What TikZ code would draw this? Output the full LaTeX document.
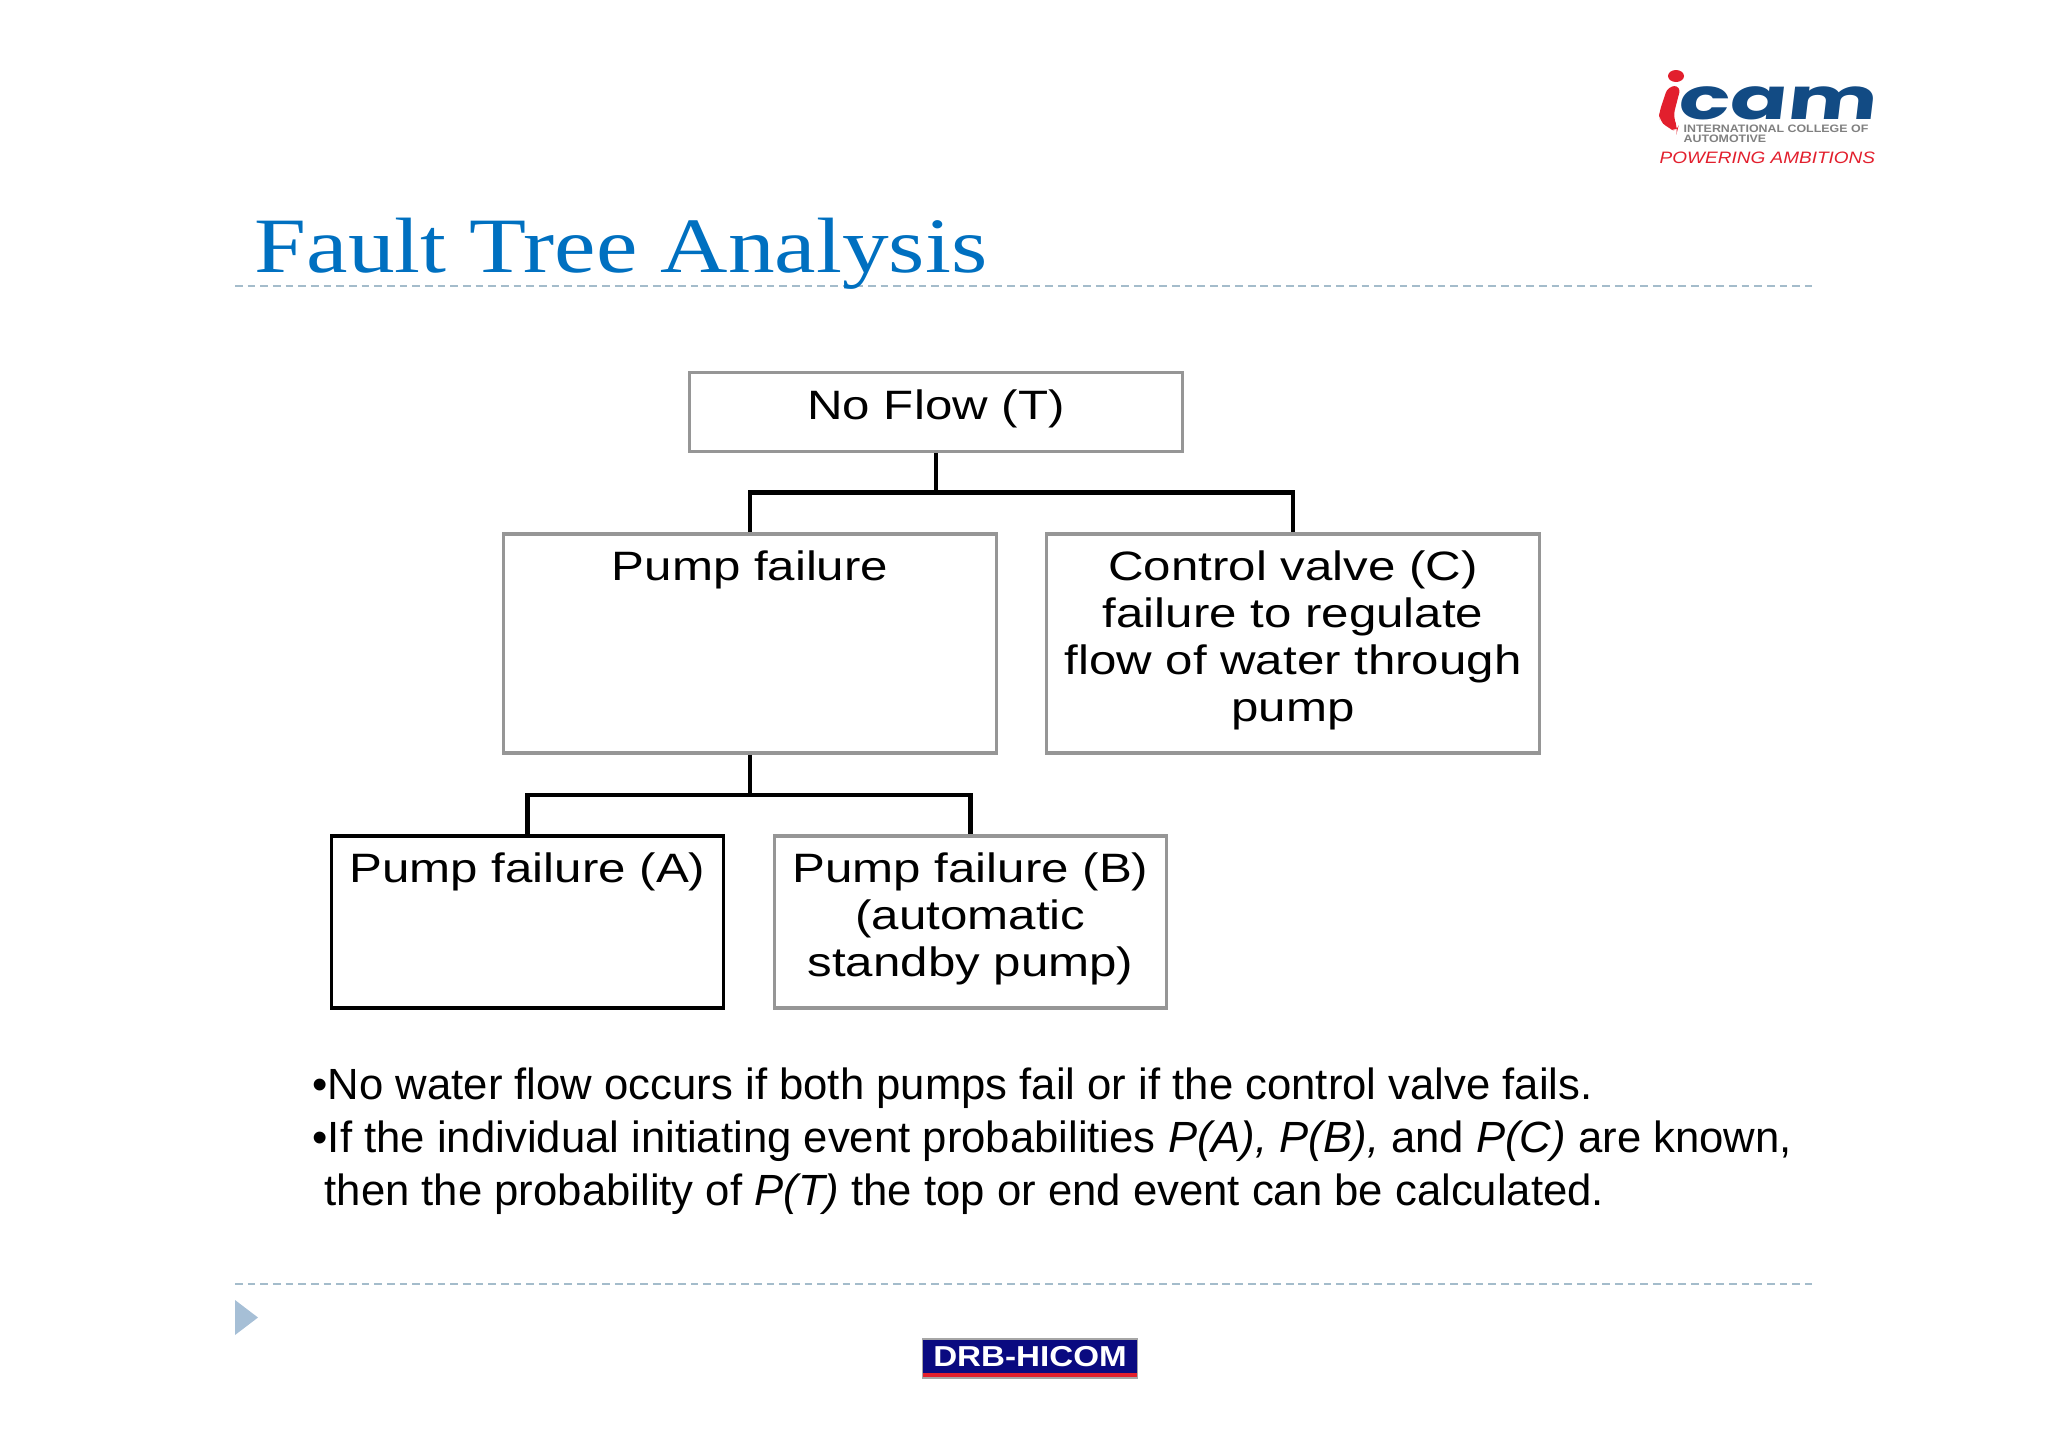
\documentclass[tikz,border=0pt]{standalone}
\usepackage{fontspec}
\setmainfont{Liberation Sans}
\newfontfamily\boxfont[FakeStretch=1.2]{Liberation Sans}
\newfontfamily\headfont[FakeStretch=1.19]{Liberation Serif}
\newfontfamily\camfont[FakeStretch=1.455,FakeSlant=0.12]{Poppins}
\newfontfamily\smallfont[FakeStretch=1.15]{Liberation Sans}
\definecolor{headblue}{HTML}{0070C0}
\definecolor{rulegray}{HTML}{A4BCCB}
\definecolor{boxgray}{HTML}{969696}
\definecolor{markblue}{HTML}{A6BFD6}
\definecolor{camred}{HTML}{E21F2D}
\definecolor{camblue}{HTML}{124B84}
\definecolor{drbblue}{HTML}{0A0A80}
\newcommand{\boxlabel}[3]{\parbox[c][#2][t]{#1}{\centering\rule{0pt}{0.465cm}#3}}
\tikzset{
  faultbox/.style={draw=boxgray,line width=1pt,inner sep=0pt,fill=white,
    font=\boxfont\fontsize{11.67}{13.37}\selectfont},
  wire/.style={draw=black,line width=1.15pt},
  dashrule/.style={draw=rulegray,line width=0.55pt,dash pattern=on 2.2pt off 1.4pt},
  bodytext/.style={inner sep=0pt,anchor=base west,align=left,
    font=\fontsize{12.42}{14.94}\selectfont}
}
\begin{document}
\begin{tikzpicture}[x=0.01cm,y=-0.01cm]
\useasboundingbox (0,0) rectangle (2048,1447);
\draw[dashrule] (235,286) -- (1812,286);
\draw[dashrule] (235,1284) -- (1812,1284);
\node[inner sep=0pt,anchor=base west,text=headblue,font=\headfont\fontsize{22.3}{26}\selectfont] (title) at (254,272) {Fault Tree Analysis};

\node[faultbox] (noflow) at (936,412) {\boxlabel{4.93cm}{0.79cm}{No Flow (T)}};
\node[faultbox] (pumpfail) at (750,643.5) {\boxlabel{4.93cm}{2.19cm}{Pump failure}};
\node[faultbox] (valve) at (1293,643.5) {\boxlabel{4.93cm}{2.19cm}{Control valve (C)\\failure to regulate\\flow of water through\\pump}};
\node[faultbox,draw=black] (pumpa) at (527.5,922) {\boxlabel{3.92cm}{1.72cm}{Pump failure (A)}};
\node[faultbox] (pumpb) at (970.5,922) {\boxlabel{3.92cm}{1.72cm}{Pump failure (B)\\(automatic\\standby pump)}};

\coordinate (topbus) at (936,492.5);
\coordinate (lowbus) at (750,794.5);
\draw[wire] (noflow.south) -- (topbus);
\draw[wire] (pumpfail.north) |- (topbus) -| (valve.north);
\draw[wire] (pumpfail.south) -- (lowbus);
\draw[wire] (pumpa.north) |- (lowbus) -| (pumpb.north);

\node[bodytext] (notes) at (312,1205) {\textbullet No water flow occurs if both pumps fail or if the control valve fails.\\
\textbullet If the individual initiating event probabilities \textit{P(A), P(B),} and \textit{P(C)} are known,\\
\hspace*{0.12cm}then the probability of \textit{P(T)} the top or end event can be calculated.};

\fill[markblue] (235,1300) -- (258,1317.5) -- (235,1335) -- cycle;

\node[draw=gray!70,line width=0.5pt,fill=drbblue,minimum width=2.15cm,minimum height=0.39cm,inner sep=0pt] (drb) at (1030,1358.5) {};
\fill[camred] ([xshift=0.4pt,yshift=0.5pt]drb.south west) rectangle ([xshift=-0.4pt,yshift=1.6pt]drb.south east);
\node[inner sep=0pt,text=white,font=\smallfont\bfseries\fontsize{8.2}{10}\selectfont] (drbtext) at (1030,1357) {DRB-HICOM};

\fill[camred] (1676,76) ellipse (8 and 6);
\fill[camred,rounded corners=2pt] (1668,86) -- (1681,86) -- (1673,117) -- (1678,128) -- (1677,132) -- (1668,128) -- (1659,120) -- (1659,113) -- cycle;
\node[inner sep=0pt,anchor=base west,text=camblue,font=\camfont\bfseries\fontsize{16.5}{19}\selectfont] (cam) at (1677,119) {cam};
\node[inner sep=0pt,anchor=base west,text=gray,font=\smallfont\bfseries\fontsize{3.07}{3.2}\selectfont] (college) at (1683,132) {INTERNATIONAL COLLEGE OF};
\node[inner sep=0pt,anchor=base west,text=gray,font=\smallfont\bfseries\fontsize{3.07}{3.2}\selectfont] (auto) at (1683,142) {AUTOMOTIVE};
\node[inner sep=0pt,anchor=base west,text=camred,font=\smallfont\itshape\fontsize{4.7}{5}\selectfont] (slogan) at (1659,163) {POWERING AMBITIONS};
\end{tikzpicture}
\end{document}
